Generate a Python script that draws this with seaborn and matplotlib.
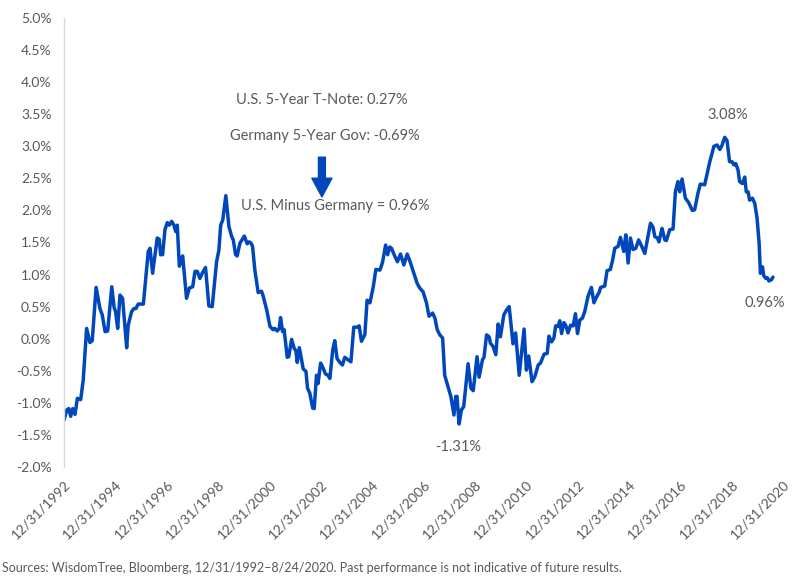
import numpy as np
import pandas as pd
import matplotlib
matplotlib.use("Agg")
import matplotlib.pyplot as plt
import seaborn as sns

# Spread: decimal year (12/31/1992 = 1993.0) and spread in %
years = [
    1993.00, 1993.11, 1993.19, 1993.26, 1993.34, 1993.43, 1993.52, 1993.65, 1993.75, 1993.88,
    1994.01, 1994.10, 1994.25, 1994.40, 1994.49, 1994.60, 1994.70, 1994.86, 1994.95, 1995.01,
    1995.09, 1995.18, 1995.28, 1995.44, 1995.50, 1995.63, 1995.72, 1995.80, 1995.89, 1996.09,
    1996.28, 1996.35, 1996.45, 1996.63, 1996.71, 1996.76, 1996.84, 1996.93, 1997.02, 1997.10,
    1997.19, 1997.28, 1997.35, 1997.41, 1997.49, 1997.62, 1997.77, 1997.88, 1998.01, 1998.10,
    1998.19, 1998.29, 1998.38, 1998.51, 1998.64, 1998.77, 1998.94, 1999.03, 1999.10, 1999.18,
    1999.30, 1999.42, 1999.53, 1999.59, 1999.68, 1999.74, 1999.85, 2000.02, 2000.13, 2000.21,
    2000.28, 2000.34, 2000.43, 2000.56, 2000.69, 2000.75, 2000.89, 2001.02, 2001.14, 2001.21,
    2001.30, 2001.38, 2001.43, 2001.51, 2001.57, 2001.69, 2001.75, 2001.86, 2001.96, 2002.03,
    2002.08, 2002.16, 2002.25, 2002.31, 2002.42, 2002.48, 2002.57, 2002.68, 2002.74, 2002.83,
    2002.89, 2002.99, 2003.09, 2003.18, 2003.28, 2003.35, 2003.46, 2003.54, 2003.63, 2003.74,
    2003.84, 2003.93, 2004.06, 2004.17, 2004.28, 2004.41, 2004.49, 2004.58, 2004.71, 2004.80,
    2004.91, 2005.04, 2005.14, 2005.30, 2005.40, 2005.52, 2005.60, 2005.68, 2005.75, 2005.84,
    2005.98, 2006.10, 2006.23, 2006.36, 2006.49, 2006.62, 2006.75, 2006.85, 2006.98, 2007.11,
    2007.21, 2007.35, 2007.44, 2007.53, 2007.63, 2007.74, 2007.82, 2007.95, 2008.06, 2008.18,
    2008.25, 2008.30, 2008.38, 2008.47, 2008.56, 2008.73, 2008.84, 2008.93, 2009.08, 2009.16,
    2009.29, 2009.35, 2009.45, 2009.55, 2009.60, 2009.70, 2009.81, 2009.90, 2009.99, 2010.12,
    2010.23, 2010.33, 2010.48, 2010.58, 2010.72, 2010.91, 2011.00, 2011.09, 2011.22, 2011.33,
    2011.46, 2011.55, 2011.69, 2011.81, 2011.88, 2011.98, 2012.07, 2012.14, 2012.23, 2012.30,
    2012.37, 2012.46, 2012.53, 2012.62, 2012.72, 2012.82, 2012.91, 2012.99, 2013.08, 2013.18,
    2013.27, 2013.40, 2013.53, 2013.63, 2013.73, 2013.83, 2013.89, 2014.05, 2014.14, 2014.27,
    2014.37, 2014.44, 2014.57, 2014.66, 2014.79, 2014.87, 2014.96, 2015.05, 2015.15, 2015.26,
    2015.37, 2015.48, 2015.61, 2015.83, 2015.93, 2016.00, 2016.10, 2016.16, 2016.28, 2016.39,
    2016.45, 2016.58, 2016.71, 2016.80, 2016.90, 2016.97, 2017.06, 2017.19, 2017.32, 2017.46,
    2017.55, 2017.68, 2017.77, 2017.94, 2018.14, 2018.30, 2018.42, 2018.53, 2018.61, 2018.72,
    2018.81, 2018.91, 2019.00, 2019.08, 2019.15, 2019.24, 2019.30, 2019.41, 2019.50, 2019.56,
    2019.63, 2019.69, 2019.80, 2019.89, 2019.98, 2020.06, 2020.11, 2020.19, 2020.24, 2020.32,
    2020.38, 2020.44, 2020.54, 2020.60,
]
spread = [
    -1.27, -1.11, -1.09, -1.21, -1.09, -1.18, -0.93, -0.95, -0.64, 0.16,
    -0.06, -0.03, 0.80, 0.47, 0.37, 0.11, 0.12, 0.81, 0.49, 0.42,
    0.16, 0.68, 0.63, -0.14, 0.21, 0.42, 0.47, 0.47, 0.54, 0.54,
    1.36, 1.41, 1.02, 1.57, 1.55, 1.31, 1.31, 1.70, 1.81, 1.77,
    1.83, 1.77, 1.67, 1.77, 1.13, 1.29, 0.63, 0.79, 0.81, 1.05,
    1.05, 0.94, 1.02, 1.11, 0.51, 0.50, 1.20, 1.38, 1.77, 1.85,
    2.23, 1.75, 1.59, 1.54, 1.31, 1.29, 1.49, 1.60, 1.48, 1.51,
    1.49, 1.44, 1.07, 0.72, 0.74, 0.67, 0.45, 0.19, 0.14, 0.16,
    0.12, 0.16, 0.33, 0.11, 0.14, -0.29, -0.28, -0.01, -0.15, -0.19,
    -0.37, -0.14, -0.33, -0.47, -0.51, -0.77, -0.85, -1.08, -1.09, -0.57,
    -0.70, -0.38, -0.46, -0.55, -0.57, -0.62, -0.18, -0.03, -0.31, -0.37,
    -0.41, -0.29, -0.33, -0.36, 0.18, 0.18, 0.20, -0.04, 0.06, 0.60,
    0.56, 0.81, 1.08, 1.07, 1.19, 1.46, 1.31, 1.43, 1.41, 1.32,
    1.20, 1.32, 1.15, 1.32, 1.18, 1.02, 0.86, 0.79, 0.73, 0.56,
    0.35, 0.40, 0.32, 0.14, 0.06, 0.01, -0.57, -0.75, -0.90, -1.19,
    -0.90, -0.90, -1.33, -1.11, -1.06, -0.39, -0.77, -0.81, -0.28, -0.60,
    -0.33, -0.29, 0.06, 0.03, -0.07, -0.12, -0.25, 0.23, 0.03, 0.37,
    0.45, 0.50, -0.08, 0.09, -0.57, 0.15, -0.49, -0.27, -0.67, -0.59,
    -0.41, -0.38, -0.24, -0.23, 0.04, -0.05, 0.01, 0.20, 0.19, 0.28,
    0.08, 0.25, 0.21, 0.09, 0.21, 0.20, 0.39, 0.08, 0.29, 0.32,
    0.42, 0.66, 0.80, 0.56, 0.65, 0.72, 0.80, 0.82, 1.06, 1.08,
    1.25, 1.41, 1.44, 1.58, 1.36, 1.62, 1.18, 1.57, 1.39, 1.41,
    1.54, 1.45, 1.33, 1.80, 1.74, 1.59, 1.57, 1.51, 1.72, 1.54,
    1.53, 1.70, 1.71, 2.29, 2.45, 2.29, 2.49, 2.19, 2.12, 2.00,
    2.01, 2.27, 2.41, 2.40, 2.76, 3.00, 3.02, 2.95, 3.01, 3.14,
    3.09, 2.76, 2.76, 2.71, 2.73, 2.63, 2.45, 2.42, 2.52, 2.29,
    2.29, 2.16, 2.19, 2.11, 1.88, 1.49, 1.02, 1.12, 0.98, 0.94,
    0.95, 0.90, 0.92, 0.96,
]

tick_years = list(range(1993, 2022, 2))
tick_labels = ["12/31/%d" % (y - 1) for y in tick_years]

us_label = "U.S. 5-Year T-Note: 0.27%"
de_label = "Germany 5-Year Gov: -0.69%"
diff_label = "U.S. Minus Germany = 0.96%"
peak_label = "3.08%"
low_label = "-1.31%"
last_label = "0.96%"
source = ("Sources: WisdomTree, Bloomberg, 12/31/1992\u20138/24/2020. "
          "Past performance is not indicative of future results.")

blue = "#0047bb"
grey = "#595959"

df = pd.DataFrame({"year": years, "spread": spread})

sns.set_style("white")
plt.rcParams["font.family"] = ["Lato", "DejaVu Sans"]

fig = plt.figure(figsize=(8.1, 5.88), dpi=100)
ax = fig.add_axes([0.079, 0.2058, 0.888, 0.7636])

sns.lineplot(data=df, x="year", y="spread", color=blue, linewidth=2.5, ax=ax)

ax.set_xlim(1993, 2021)
ax.set_ylim(-2, 5)
ax.set_yticks(np.arange(-2, 5.01, 0.5))
ax.set_yticklabels(["%.1f%%" % v for v in np.arange(-2, 5.01, 0.5)])
ax.set_xticks(tick_years)
ax.set_xticklabels(tick_labels, rotation=45, ha="right", rotation_mode="anchor")
ax.tick_params(axis="both", length=0, labelsize=10, labelcolor=grey)
ax.tick_params(axis="y", pad=9)
ax.tick_params(axis="x", pad=8)
ax.set_xlabel("")
ax.set_ylabel("")

for side in ["top", "right", "bottom"]:
    ax.spines[side].set_visible(False)
ax.spines["left"].set_color("#d9d9d9")
ax.spines["left"].set_linewidth(1)

txt = dict(color=grey, fontsize=10.5, va="center")
ax.text(1999.69, 3.72, us_label, ha="left", **txt)
ax.text(1999.46, 3.16, de_label, ha="left", **txt)
ax.text(1999.89, 2.07, diff_label, ha="left", **txt)
ax.annotate("", xy=(2003.04, 2.21), xytext=(2003.04, 2.83),
            arrowprops=dict(arrowstyle="simple,head_width=1.45,head_length=1.35,tail_width=0.5",
                            fc=blue, ec=blue, mutation_scale=10, shrinkA=0, shrinkB=0))

ax.text(2018.84, 3.48, peak_label, ha="center", **txt)
ax.text(2020.28, 0.55, last_label, ha="center", **txt)
ax.text(2008.33, -1.69, low_label, ha="center", **txt)

fig.text(0.002, 0.034, source, ha="left", va="center", color=grey, fontsize=9)

fig.savefig("out.png", dpi=100)
